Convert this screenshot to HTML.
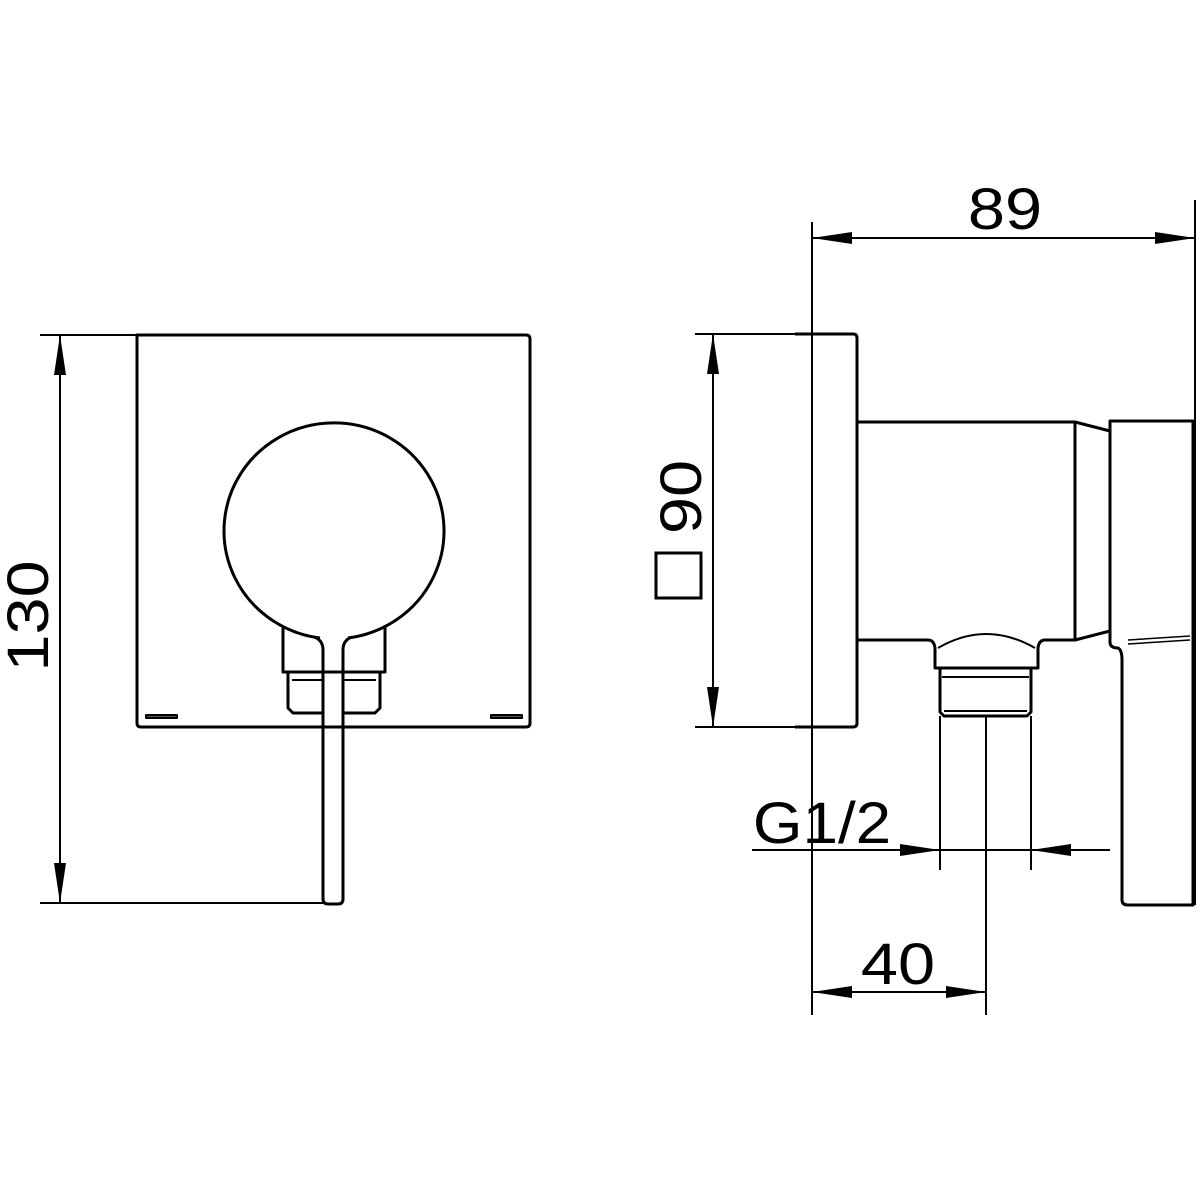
<!DOCTYPE html>
<html><head><style>html,body{margin:0;padding:0;background:#fff}svg{display:block}</style></head>
<body>
<svg width="1200" height="1200" viewBox="0 0 1200 1200" xmlns="http://www.w3.org/2000/svg">
<defs>
<marker id="a" viewBox="0 0 40 12" refX="40" refY="6" markerWidth="40" markerHeight="12" markerUnits="userSpaceOnUse" orient="auto"><path d="M0,0 L40,6 L0,12 Z" fill="#000"/></marker>
</defs>
<g fill="none" stroke="#000" stroke-width="3" stroke-linejoin="round">
<path d="M137,335 L526,335 Q530,335 530,339 L530,723 Q530,727 526,727 L141,727 Q137,727 137,723 Z"/>
<path d="M320,638 A110,108 0 1 1 348,638"/>
<path d="M283,626 L283,672 L385,672 L385,626"/>
<path d="M288,672 L288,708 L293,713 L323,713 M343,713 L375,713 L380,708 L380,672"/>
<path d="M292,680 L323,680 M343,680 L376,680" stroke-width="2"/>
<path d="M314,637 Q323,640 323,650 L323,899 Q323,904 328,904 L338,904 Q343,904 343,899 L343,650 Q343,640 352,637"/>
<rect x="146" y="715" width="31" height="3" stroke-width="2" fill="#555"/>
<rect x="491" y="715" width="31" height="3" stroke-width="2" fill="#555"/>
<path d="M795,334 L853,334 Q857,334 857,338 L857,723 Q857,727 853,727 L795,727"/>
<path d="M858,422 L1075,422 L1110,431 M858,640 L928,640 Q934,640 935,648 L935,668 L1038,668 L1038,648 Q1039,640 1045,640 L1075,640 L1110,631"/>
<path d="M1075,422 L1075,640"/>
<path d="M938,648 Q986,620 1035,648" stroke-width="2"/>
<path d="M940,668 L940,712 L944,716 L1027,716 L1031,712 L1031,668"/>
<path d="M942,677 L1029,677 M944,711 L1027,711" stroke-width="2"/>
<path d="M1110,421 L1110,642 Q1110,648 1118,648 Q1122,650 1122,660 L1122,900 Q1122,905 1128,905 L1193,905 L1193,421 Z"/>
<path d="M1128,640 L1190,636 M1128,644 L1190,640" stroke-width="1.5"/>
</g>
<g stroke="#000" stroke-width="2" fill="none">
<line x1="40" y1="335" x2="137" y2="335"/>
<line x1="40" y1="903" x2="325" y2="903"/>
<line x1="60" y1="600" x2="60" y2="335" marker-end="url(#a)"/>
<line x1="60" y1="600" x2="60" y2="903" marker-end="url(#a)"/>
<line x1="812" y1="222" x2="812" y2="1015"/>
<line x1="1195" y1="200" x2="1195" y2="905"/>
<line x1="1000" y1="238" x2="812" y2="238" marker-end="url(#a)"/>
<line x1="1000" y1="238" x2="1195" y2="238" marker-end="url(#a)"/>
<line x1="695" y1="334" x2="830" y2="334"/>
<line x1="695" y1="727" x2="812" y2="727"/>
<line x1="713" y1="530" x2="713" y2="334" marker-end="url(#a)"/>
<line x1="713" y1="530" x2="713" y2="727" marker-end="url(#a)"/>
<line x1="940" y1="716" x2="940" y2="870"/>
<line x1="1031" y1="716" x2="1031" y2="870"/>
<line x1="752" y1="850" x2="940" y2="850" marker-end="url(#a)"/>
<line x1="1110" y1="850" x2="1031" y2="850" marker-end="url(#a)"/>
<line x1="940" y1="850" x2="1031" y2="850"/>
<line x1="986" y1="716" x2="986" y2="1015"/>
<line x1="900" y1="992" x2="812" y2="992" marker-end="url(#a)"/>
<line x1="900" y1="992" x2="986" y2="992" marker-end="url(#a)"/>
</g>
<rect x="656" y="553" width="45" height="45" fill="none" stroke="#000" stroke-width="3"/>
<g font-family="Liberation Sans, sans-serif" font-size="58" fill="#000">
<text x="0" y="0" transform="translate(48,616) rotate(-90) scale(1.15,1)" text-anchor="middle">130</text>
<text x="0" y="0" transform="translate(701,497) rotate(-90) scale(1.15,1)" text-anchor="middle">90</text>
<text x="0" y="0" transform="translate(1005,229) scale(1.15,1)" text-anchor="middle">89</text>
<text x="0" y="0" transform="translate(822,843) scale(1.1,1)" text-anchor="middle">G1/2</text>
<text x="0" y="0" transform="translate(898,984) scale(1.15,1)" text-anchor="middle">40</text>
</g>
</svg>
</body></html>
